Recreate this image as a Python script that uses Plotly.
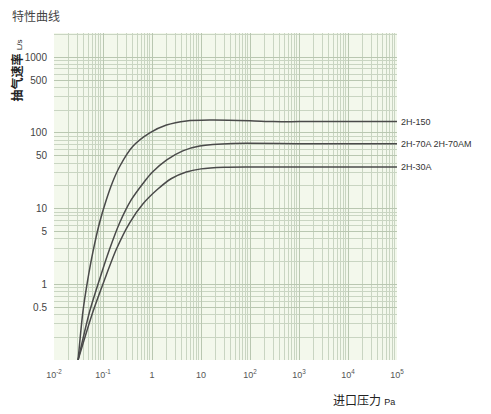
import plotly.graph_objects as go
import math

# Data (inlet pressure in Pa, pumping speed in L/s)
p_2h150 = [0.031, 0.0388, 0.049, 0.062, 0.085, 0.117, 0.155, 0.219, 0.403, 0.90, 1.97, 5.05, 15, 100, 300, 1e3, 1e4, 1e5]
s_2h150 = [0.1, 0.43, 1.16, 2.64, 6.5, 13.1, 22, 36, 66, 100, 127, 144, 148, 145, 141, 141, 141, 141]

p_2h70 = [0.031, 0.053, 0.085, 0.136, 0.219, 0.379, 0.71, 1.0, 2.0, 4.25, 9.4, 45, 1e3, 1e4, 1e5]
s_2h70 = [0.1, 0.43, 1.16, 2.9, 6.5, 13.1, 23, 30, 44, 58, 67, 72.5, 72, 72, 72]

p_2h30 = [0.031, 0.062, 0.108, 0.187, 0.35, 0.65, 1.3, 2.5, 5.0, 10, 30, 100, 1e3, 1e4, 1e5]
s_2h30 = [0.1, 0.43, 1.16, 2.9, 6.5, 11.5, 18, 25, 30.5, 33.5, 35.2, 35.5, 35.5, 35.5, 35.5]

series_names = ["2H-150", "2H-70A 2H-70AM", "2H-30A"]

x_tickvals = [1e-2, 1e-1, 1, 10, 1e2, 1e3, 1e4, 1e5]
x_ticktext = ["10<sup>-2</sup>", "10<sup>-1</sup>", "1", "10", "10<sup>2</sup>", "10<sup>3</sup>", "10<sup>4</sup>", "10<sup>5</sup>"]
y_tickvals = [0.5, 1, 5, 10, 50, 100, 500, 1000]
y_ticktext = ["0.5", "1", "5", "10", "50", "100", "500", "1000"]

x_minor = [k * 10.0 ** n for n in range(-2, 5) for k in range(2, 10)]
y_minor = [k * 10.0 ** n for n in range(-1, 4) for k in range(2, 10)]

FONT = "Liberation Sans, Noto Sans CJK SC, sans-serif"
LINE = "#4a4a4a"
GRID = "#c9d5c2"

fig = go.Figure()
series = [(p_2h150, s_2h150), (p_2h70, s_2h70), (p_2h30, s_2h30)]
for (px, py), name in zip(series, series_names):
    fig.add_trace(go.Scatter(x=px, y=py, mode="lines", name=name,
                             line=dict(color=LINE, width=1.5, shape="spline", smoothing=0.7),
                             showlegend=False, hoverinfo="skip", cliponaxis=False))
    fig.add_annotation(x=math.log10(px[-1]), y=math.log10(py[-1]), xref="x", yref="y",
                       text=name, showarrow=False, xanchor="left", xshift=2,
                       font=dict(family=FONT, size=9, color="#333"))

fig.update_xaxes(type="log", range=[-2, 5], tickmode="array", tickvals=x_tickvals, ticktext=x_ticktext,
                 showgrid=True, gridcolor="#b9c7b1", gridwidth=1, zeroline=False,
                 ticks="outside", ticklen=6, tickcolor="rgba(0,0,0,0)",
                 tickfont=dict(family=FONT, size=9, color="#555"),
                 minor=dict(tickmode="array", tickvals=x_minor, showgrid=True, gridcolor=GRID, gridwidth=1),
                 showline=False)
fig.update_yaxes(type="log", range=[-1, 3.32], tickmode="array", tickvals=y_tickvals, ticktext=y_ticktext,
                 showgrid=True, gridcolor="#b9c7b1", gridwidth=1, zeroline=False,
                 ticks="outside", ticklen=4, tickcolor="rgba(0,0,0,0)",
                 tickfont=dict(family=FONT, size=10, color="#444"),
                 minor=dict(tickmode="array", tickvals=y_minor, showgrid=True, gridcolor=GRID, gridwidth=1),
                 showline=False)

fig.add_annotation(xref="paper", yref="paper", x=-0.105, y=0.885, xanchor="center", yanchor="middle",
                   textangle=-90,
                   text="<b>抽气速率</b> <span style='font-size:8px'>L/s</span>",
                   showarrow=False, font=dict(family=FONT, size=12, color="#222"))
fig.add_annotation(xref="paper", yref="paper", x=1.0, y=-0.125, xanchor="right", yanchor="middle",
                   text="进口压力 <span style='font-size:9px'>Pa</span>",
                   showarrow=False, font=dict(family=FONT, size=12, color="#222"))

# page body adds an 8px margin, so the figure is 8px smaller and margins shifted
fig.update_layout(
    width=483, height=406,
    margin=dict(l=46, r=94, t=25, b=54),
    paper_bgcolor="white", plot_bgcolor="#f3f8ec",
    title=dict(text="特性曲线", x=4 / 483, xanchor="left", y=1 - 9 / 406, yanchor="middle",
               font=dict(family=FONT, size=12, color="#444")),
)

fig.write_html("out.html")
